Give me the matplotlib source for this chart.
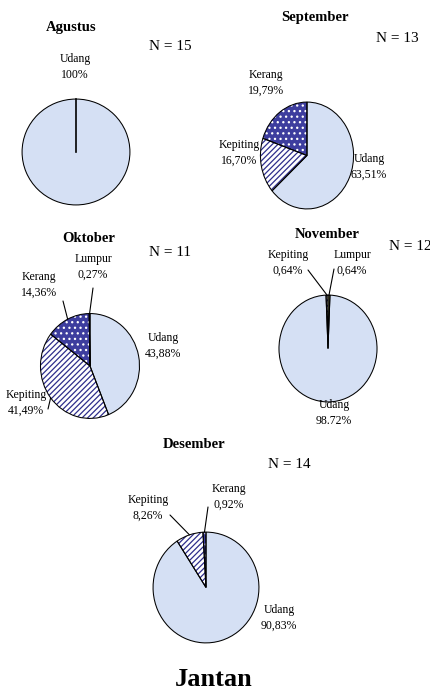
import numpy as np
import matplotlib.pyplot as plt

plt.rcParams['font.family'] = ['Liberation Serif', 'DejaVu Serif']
plt.rcParams['hatch.linewidth'] = 0.9

W, H = 430, 693

# data per bulan (urutan searah jarum jam mulai dari atas)
bulan = ['Agustus', 'September', 'Oktober', 'November', 'Desember']
n_sampel = [15, 13, 11, 12, 14]
kategori = [
    ['Udang'],
    ['Udang', 'Kepiting', 'Kerang'],
    ['Udang', 'Kepiting', 'Kerang', 'Lumpur'],
    ['Udang', 'Kepiting', 'Lumpur'],
    ['Udang', 'Kepiting', 'Kerang'],
]
persen = [
    [100.0],
    [63.51, 16.70, 19.79],
    [43.88, 41.49, 14.36, 0.27],
    [98.72, 0.64, 0.64],
    [90.83, 8.26, 0.92],
]
label_persen = [
    ['100%'],
    ['63,51%', '16,70%', '19,79%'],
    ['43,88%', '41,49%', '14,36%', '0,27%'],
    ['98.72%', '0,64%', '0,64%'],
    ['90,83%', '8,26%', '0,92%'],
]

# tata letak (piksel): pusat pie, jari-jari x/y, judul, N, posisi label
pusat = [(76, 152), (307, 155.5), (90, 366), (328, 348.5), (206, 587.5)]
jari = [(55, 54), (47.5, 54.5), (50.5, 53.5), (50, 54.5), (54, 56.5)]
pos_judul = [(71, 27), (315, 18), (89, 238), (327, 235), (194, 444)]
pos_n = [(170, 47), (397, 38), (170, 252), (410, 247), (289, 464)]
pos_label = [
    [(75, 67)],
    [(369, 167), (239, 153), (266, 83)],
    [(163, 346), (26, 403), (39, 285), (93, 267)],
    [(334, 413), (288, 263), (352, 263)],
    [(279, 618), (148, 508), (229, 497)],
]
# ujung garis penunjuk (piksel), None = tanpa garis
garis = [
    [None],
    [None, None, None],
    [None, (48, 409), (63, 301), (93, 288)],
    [None, (308, 270), (334, 269)],
    [None, (170, 515), (208, 507)],
]

warna = {'Udang': '#d5e0f4', 'Kepiting': 'white', 'Kerang': '#3d3d9e', 'Lumpur': '#d9d98a'}
hatch = {'Udang': None, 'Kepiting': '//////', 'Kerang': '...', 'Lumpur': None}
warna_hatch = {'Udang': '#d5e0f4', 'Kepiting': '#2e2e8c', 'Kerang': 'white', 'Lumpur': '#d9d98a'}


def fx(x):
    return x / W


def fy(y):
    return 1 - y / H


fig = plt.figure(figsize=(W / 100, H / 100), dpi=100)

for i in range(len(bulan)):
    cx, cy = pusat[i]
    rx, ry = jari[i]
    ax = fig.add_axes([fx(cx - rx), fy(cy + ry), 2 * rx / W, 2 * ry / H])
    vals = persen[i]
    start = 90 - (vals[-1] * 3.6 if kategori[i][-1] == 'Lumpur' and len(vals) == 3 else 0)
    wedges, _ = ax.pie(vals, startangle=start, counterclock=False, radius=1)
    for w, k in zip(wedges, kategori[i]):
        w.set_facecolor(warna[k])
        w.set_edgecolor(warna_hatch[k])
        w.set_linewidth(0)
        if hatch[k]:
            w.set_hatch(hatch[k])
    # garis tepi
    outline, _ = ax.pie(vals, startangle=start, counterclock=False, radius=1,
                        wedgeprops=dict(facecolor='none', edgecolor='black', linewidth=0.75))
    if len(vals) == 1:
        a = np.deg2rad(start)
        ax.plot([0, np.cos(a)], [0, np.sin(a)], color='black', lw=1.2)
    ax.set_aspect('auto')
    ax.set_xlim(-1.02, 1.02)
    ax.set_ylim(-1.02, 1.02)
    ax.axis('off')

    fig.text(fx(pos_judul[i][0]), fy(pos_judul[i][1]), bulan[i], ha='center', va='center',
             fontsize=10.5, fontweight='bold')
    fig.text(fx(pos_n[i][0]), fy(pos_n[i][1]), 'N = %d' % n_sampel[i], ha='center', va='center',
             fontsize=11)

    for j, k in enumerate(kategori[i]):
        lx, ly = pos_label[i][j]
        fig.text(fx(lx), fy(ly), k + '\n' + label_persen[i][j], ha='center', va='center',
                 fontsize=8.5, linespacing=1.45)
        if garis[i][j] is not None:
            w = outline[j]
            mid = np.deg2rad((w.theta1 + w.theta2) / 2)
            ax.annotate('', xy=(np.cos(mid), np.sin(mid)), xycoords='data',
                        xytext=(fx(garis[i][j][0]), fy(garis[i][j][1])), textcoords='figure fraction',
                        arrowprops=dict(arrowstyle='-', color='black', lw=0.8, shrinkA=0, shrinkB=0),
                        annotation_clip=False)

fig.text(fx(214), fy(680), 'Jantan', ha='center', va='center', fontsize=19, fontweight='bold')

fig.savefig('out.png', dpi=100)
